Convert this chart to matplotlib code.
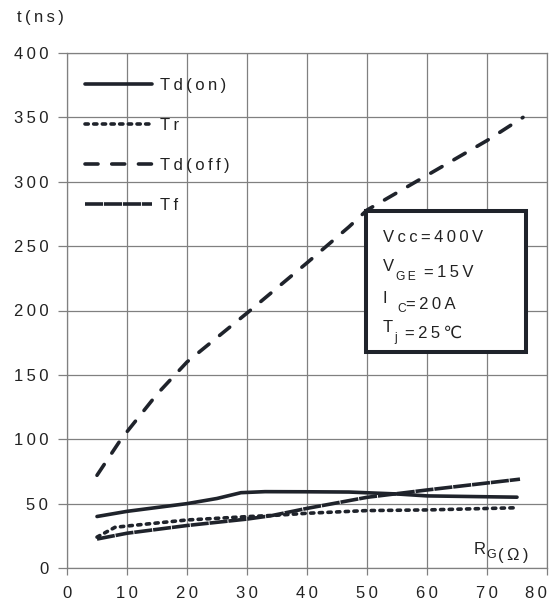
import matplotlib.pyplot as plt
from matplotlib.patches import Rectangle
from matplotlib.lines import Line2D

plt.rcParams['font.family'] = ['Liberation Sans', 'DejaVu Sans']

# switching times vs gate resistance
rg_don = [5, 10, 20, 25, 29, 33, 40, 47, 55, 60, 75]
td_on = [40, 44, 50, 54, 58.5, 59.3, 59.2, 59, 57.5, 56, 55]

rg_tr = [5, 8, 10, 20, 30, 35, 40, 50, 60, 75]
tr = [24, 31.6, 32.6, 37.3, 39.9, 41, 42.5, 44.6, 45.1, 46.8]

rg_doff = [5, 9, 15, 20, 30, 40, 47, 50, 60, 70, 76]
td_off = [72, 100, 135, 160, 198, 237, 265, 278, 305, 332, 350]

rg_tf = [5, 10, 20, 30, 34, 40, 50, 60, 75.5]
tf = [22.5, 27, 33, 38, 40.6, 46.3, 54.9, 60.6, 69]

names = ['Td(on)', 'Tr', 'Td(off)', 'Tf']
x_ticks = [0, 10, 20, 30, 40, 50, 60, 70, 80]
y_ticks = [0, 50, 100, 150, 200, 250, 300, 350, 400]

# test conditions: (main, subscript, rest)
conditions = [("Vcc=400V", "", ""), ("V", "GE", " =15V"), ("I ", "C", "=20A"), ("T", "j", " =25\u2103")]

TS = '\u2009'  # thin space used as letter spacing
def spaced(s):
    return TS.join(s)

txt_c = '#222222'
lc = '#1f232b'
lw = 2.6
styles = [
    dict(solid_capstyle='round'),
    dict(dashes=(0.9, 1.5), dash_capstyle='round'),
    dict(dashes=(3.6, 3.8), dash_capstyle='round'),
    dict(dashes=(5, 0.25)),
]

fig = plt.figure(figsize=(5.52, 6.06), dpi=100)
ax = fig.add_axes([67 / 552, 1 - 568 / 606, 480 / 552, 515 / 606])

for (xs, ys), st in zip([(rg_don, td_on), (rg_tr, tr), (rg_doff, td_off), (rg_tf, tf)], styles):
    ax.plot(xs, ys, color=lc, lw=lw, zorder=3, **st)

ax.set_xlim(0, 80)
ax.set_ylim(0, 400)
ax.set_xticks(x_ticks)
ax.set_yticks(y_ticks)
ax.set_xticklabels([spaced(str(v)) for v in x_ticks])
ax.set_yticklabels([spaced(str(v)) for v in y_ticks])
ax.get_xticklabels()[-1].set_ha('right')
ax.grid(True, color='#808080', lw=0.9)
for s in ax.spines.values():
    s.set_color('#808080')
    s.set_linewidth(0.9)
ax.tick_params(colors='#808080', labelcolor=txt_c, labelsize=12, width=0.9)
ax.tick_params(axis='y', length=6.5, pad=7)
ax.tick_params(axis='x', length=5, pad=8)

handles = [Line2D([], [], color=lc, lw=lw, **st) for st in styles]
ax.legend(handles, [spaced(n) for n in names], loc='upper left',
          bbox_to_anchor=(0.01, 0.978), frameon=False, fontsize=12,
          handlelength=4.0, labelspacing=1.5, handletextpad=0.5, borderpad=0.3,
          labelcolor=txt_c)

# test conditions box
box = Rectangle((49.9, 167.8), 26.6, 109.5, facecolor='white', edgecolor=lc, lw=2.9, zorder=4)
ax.add_patch(box)

def chained(x, y, main, sub, rest, size):
    t = ax.text(x, y, spaced(main), fontsize=size, color=txt_c, va='baseline', zorder=5)
    if sub:
        t = ax.annotate(spaced(sub), xy=(1, 0), xycoords=t, xytext=(1.5, -4),
                        textcoords='offset points', fontsize=size * 0.72,
                        color=txt_c, va='baseline', zorder=5)
        t = ax.annotate(spaced(rest), xy=(1, 0), xycoords=t, xytext=(0, 4),
                        textcoords='offset points', fontsize=size,
                        color=txt_c, va='baseline', zorder=5)
    return t

base_y = [253.2, 230.7, 205.8, 183.3]
for (main, sub, rest), by in zip(conditions, base_y):
    chained(52.6, by, main, sub, rest, 12)

# x axis name inside the plot
r = ax.text(67.7, 10.9, "R", fontsize=12, color=txt_c, va='baseline')
g = ax.annotate("G", xy=(1, 0), xycoords=r, xytext=(0.5, -1), textcoords='offset points',
                fontsize=9, color=txt_c, va='baseline')
ax.annotate(spaced("(\u03a9)"), xy=(1, 0), xycoords=g, xytext=(1.5, 1), textcoords='offset points',
            fontsize=12, color=txt_c, va='baseline')

fig.text(40.5 / 552, 1 - 22 / 606, spaced("t(ns)"), fontsize=12, color=txt_c,
         ha='center', va='baseline')

fig.savefig('out.png', dpi=100)
